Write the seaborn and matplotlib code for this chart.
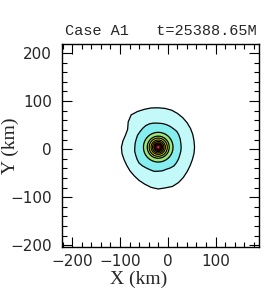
import numpy as np
import matplotlib
matplotlib.use("Agg")
import matplotlib.pyplot as plt
import seaborn as sns

# storm centre and contour outlines (km)
center_x, center_y = -20, 4
angles_deg = list(range(0, 360, 10))
outer_r = [76, 76, 77, 78, 79, 80, 81, 82, 82, 82, 83, 84,
           86, 88, 82, 74, 73, 75, 77, 77, 76, 76, 77, 78,
           80, 82, 85, 87, 86, 87, 85, 82, 79, 77, 76, 76]
second_r = [48, 48, 49, 50, 51, 50, 50, 50, 50, 50, 51, 52,
            52, 51, 50, 50, 49, 49, 49, 50, 50, 51, 52, 51,
            50, 50, 51, 50, 50, 49, 50, 51, 50, 49, 48, 48]
inner_r = [31, 23, 19, 15, 12, 9, 6.5, 2]
level_colors = ["#c4f9f9", "#86eeee", "#98e67c", "#c6ef52", "#f4f400",
                "#f8f820", "#d89a10", "#8a2a10", "#4a0a10", "#d04858"]

title_left = "Case A1"
title_right = "t=25388.65M"
x_ticks = [-200, -100, 0, 100]
y_ticks = [-200, -100, 0, 100, 200]

sns.set_style("ticks")
plt.rcParams['font.family'] = ['DejaVu Sans']

fig = plt.figure(figsize=(2.7, 2.89), dpi=100)
ax = fig.add_axes([0.2285, 0.145, 0.731, 0.703])

theta = np.deg2rad(np.array(angles_deg + [angles_deg[0]]))
outlines = [outer_r + [outer_r[0]], second_r + [second_r[0]]]
for r in inner_r:
    outlines.append([r] * (len(angles_deg) + 1))

for i, r in enumerate(outlines):
    r = np.array(r, dtype=float)
    xs = center_x + r * np.cos(theta)
    ys = center_y + r * np.sin(theta)
    lw = 0.9 if i < len(outlines) - 1 else 0
    ax.fill(xs, ys, facecolor=level_colors[i], edgecolor="black", linewidth=lw)

ax.set_xlim(-222, 191)
ax.set_ylim(-204, 219)
ax.set_xticks(x_ticks)
ax.set_yticks(y_ticks)
ax.set_xticks(np.arange(-220, 191, 20), minor=True)
ax.set_yticks(np.arange(-200, 219, 20), minor=True)
ax.set_xticklabels([str(v).replace("-", "\u2212") for v in x_ticks])
ax.set_yticklabels([str(v).replace("-", "\u2212") for v in y_ticks])
ax.tick_params(which="both", direction="in", top=True, right=True,
               color="black", width=0.8, labelsize=11)
ax.tick_params(which="major", length=7, pad=5)
ax.tick_params(which="minor", length=3.5)
ax.tick_params(axis="y", which="major", pad=7)
for s in ax.spines.values():
    s.set_linewidth(1.0)
    s.set_color("black")

ax.set_xlabel("X (km)", fontsize=14, family="Liberation Serif")
ax.set_ylabel("Y (km)", fontsize=14, family="Liberation Serif")
ax.xaxis.set_label_coords(0.39, -0.115)
ax.yaxis.set_label_coords(-0.215, 0.5)

ax.text(0.015, 1.03, title_left + "   " + title_right, transform=ax.transAxes,
        fontsize=11, family="Liberation Mono", ha="left", va="bottom")

fig.savefig("out.png", dpi=100)
